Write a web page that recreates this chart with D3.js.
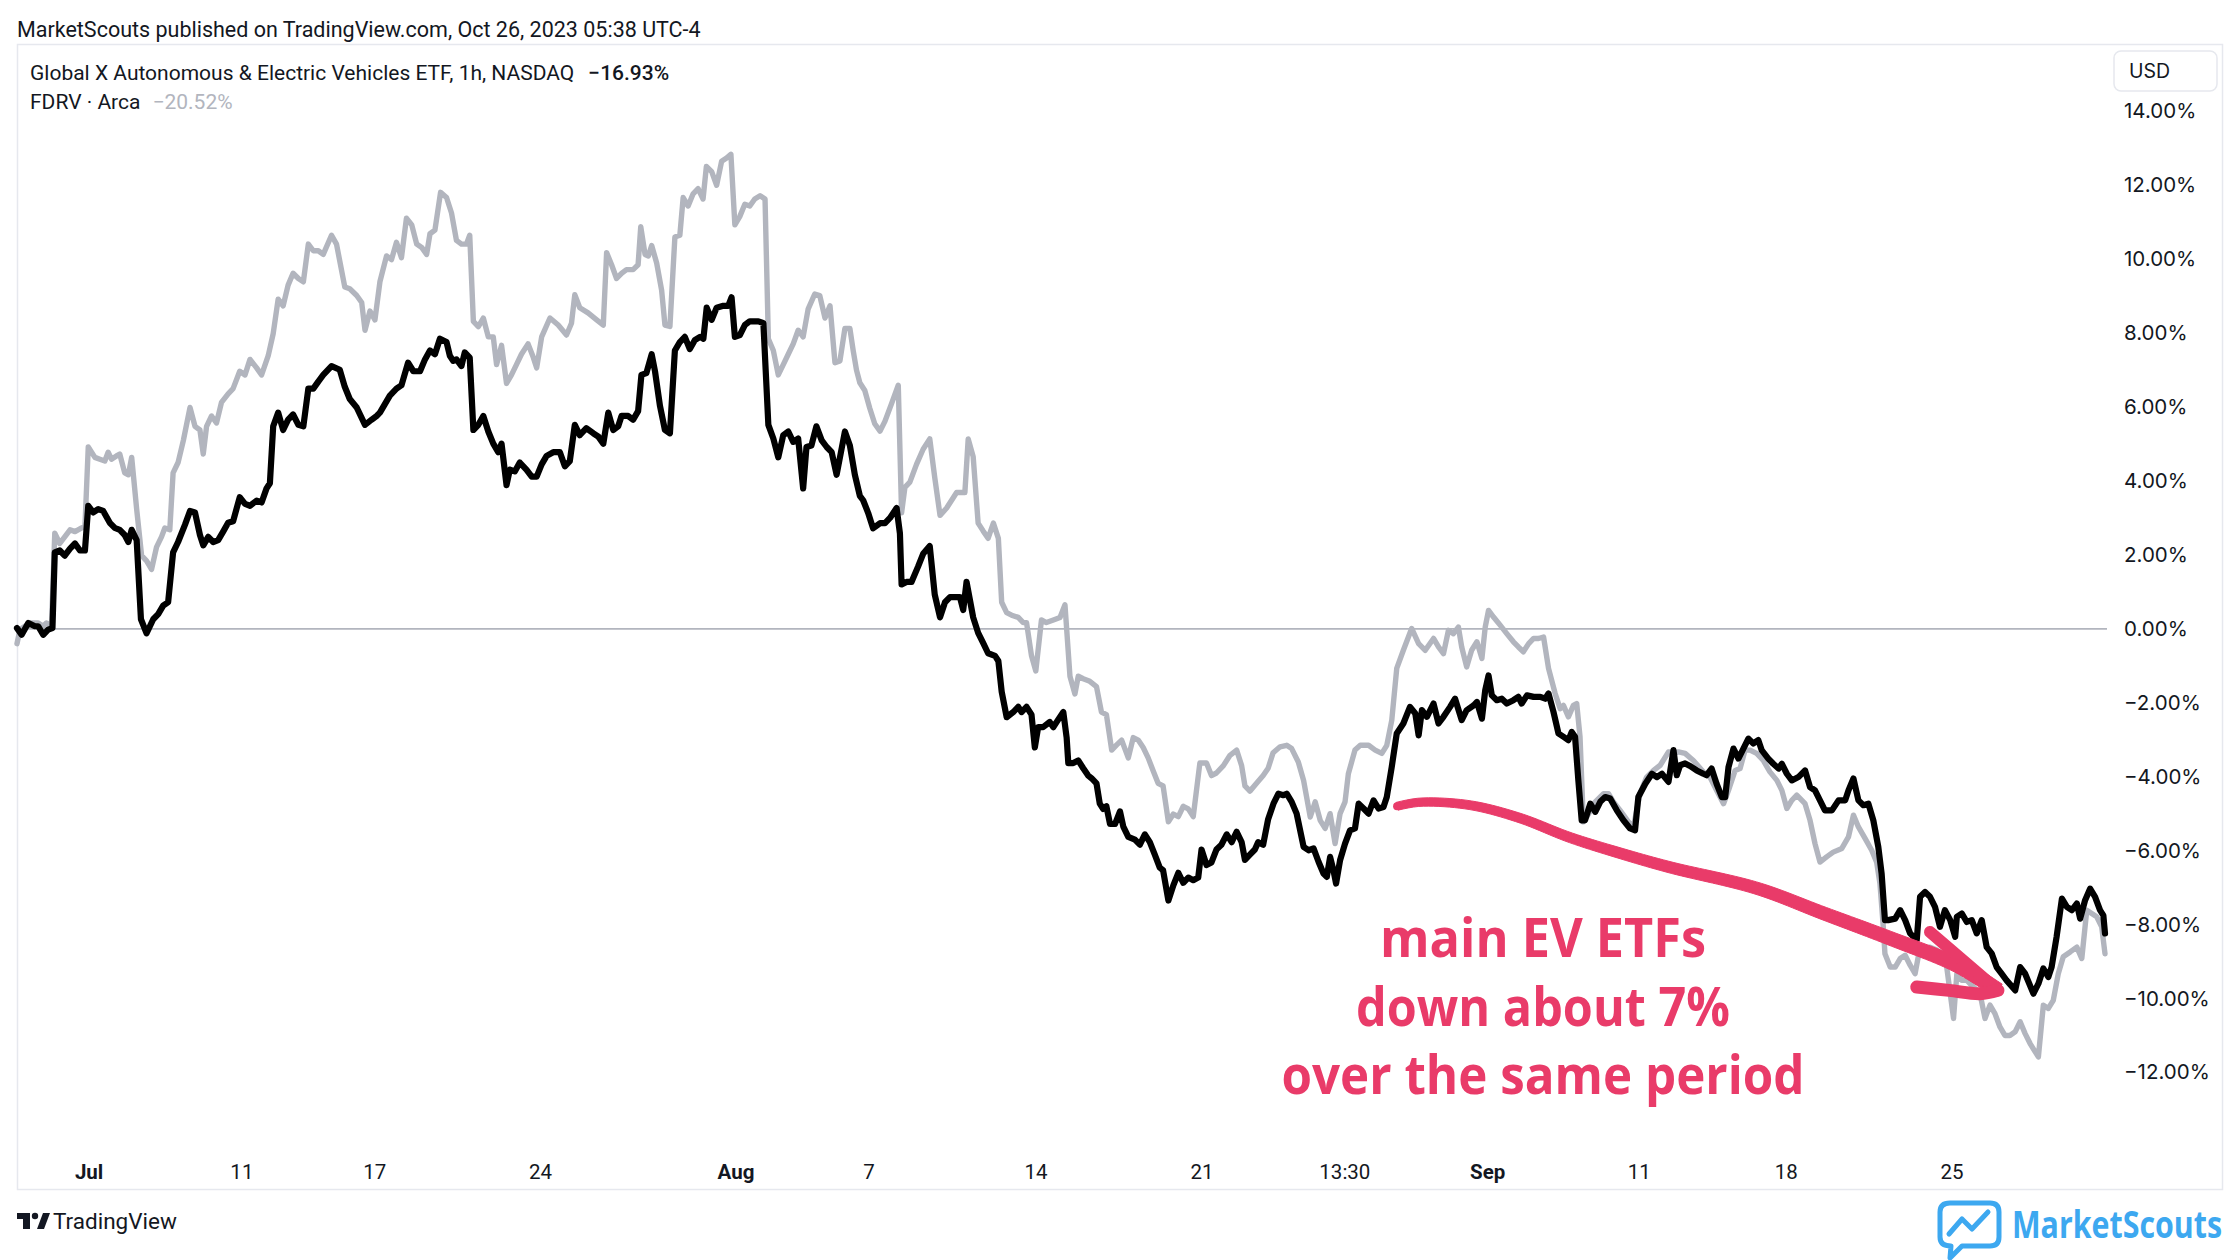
<!DOCTYPE html>
<html><head><meta charset="utf-8">
<script src="https://cdn.jsdelivr.net/npm/d3@7"></script>
<style>body{margin:0;background:#fff}svg{display:block}</style>
</head><body>
<svg id="c" width="2240" height="1260"></svg>
<script>
// ---------- DATA (trading-day position since start, % change) ----------
const drivDays = [0.00,0.14,0.34,0.54,0.64,0.79,0.94,1.07,1.14,1.29,1.44,1.60,1.75,1.90,2.05,2.15,2.30,2.45,2.60,2.80,2.95,3.10,3.25,3.36,3.46,3.61,3.74,3.91,4.11,4.26,4.41,4.56,4.71,4.86,5.07,5.22,5.37,5.52,5.62,5.77,5.92,6.07,6.22,6.37,6.52,6.72,6.88,7.03,7.23,7.38,7.53,7.63,7.73,7.88,8.03,8.18,8.33,8.49,8.64,8.79,8.94,9.09,9.24,9.49,9.74,9.89,10.04,10.25,10.50,10.70,10.85,10.95,11.10,11.25,11.45,11.60,11.80,11.96,12.16,12.31,12.46,12.61,12.76,12.96,13.06,13.16,13.26,13.41,13.51,13.66,13.77,13.92,14.07,14.22,14.37,14.52,14.62,14.77,14.87,15.02,15.17,15.37,15.53,15.68,15.83,15.98,16.18,16.38,16.53,16.68,16.83,16.98,17.18,17.39,17.54,17.69,17.84,17.99,18.14,18.24,18.44,18.59,18.74,18.84,18.99,19.15,19.25,19.40,19.55,19.70,19.85,20.00,20.15,20.30,20.45,20.61,20.71,20.81,20.96,21.11,21.31,21.46,21.56,21.66,21.81,21.96,22.11,22.37,22.52,22.67,22.82,22.97,23.12,23.27,23.42,23.57,23.72,23.82,23.97,24.12,24.28,24.43,24.58,24.73,24.98,25.13,25.28,25.43,25.53,25.68,25.83,26.04,26.19,26.34,26.54,26.64,26.69,26.84,26.99,27.19,27.34,27.54,27.69,27.85,28.00,28.15,28.30,28.45,28.55,28.65,28.75,28.85,29.00,29.15,29.30,29.51,29.61,29.71,29.86,30.06,30.21,30.31,30.46,30.61,30.71,30.81,30.96,31.16,31.27,31.42,31.57,31.67,31.72,31.87,32.02,32.17,32.32,32.42,32.57,32.67,32.77,32.87,32.98,33.13,33.28,33.38,33.53,33.73,33.88,34.03,34.18,34.33,34.48,34.58,34.74,34.89,35.04,35.19,35.34,35.49,35.64,35.74,35.89,36.04,36.19,36.34,36.50,36.65,36.80,36.95,37.05,37.20,37.35,37.45,37.60,37.75,37.91,38.06,38.21,38.31,38.46,38.61,38.82,38.97,39.12,39.27,39.42,39.52,39.62,39.72,39.80,39.92,40.07,40.22,40.37,40.48,40.63,40.78,40.93,41.08,41.23,41.33,41.48,41.63,41.83,42.03,42.19,42.29,42.39,42.54,42.74,42.89,43.04,43.24,43.39,43.59,43.74,43.95,44.05,44.20,44.30,44.40,44.50,44.65,44.80,44.95,45.15,45.30,45.40,45.56,45.76,45.96,46.11,46.21,46.36,46.51,46.66,46.81,46.91,47.01,47.11,47.21,47.31,47.47,47.62,47.77,47.92,48.07,48.27,48.47,48.67,48.82,48.92,49.13,49.33,49.48,49.63,49.83,49.98,50.08,50.18,50.33,50.48,50.68,50.88,50.98,51.13,51.28,51.44,51.54,51.64,51.79,51.94,52.09,52.24,52.39,52.54,52.64,52.84,52.99,53.15,53.25,53.40,53.55,53.75,53.95,54.10,54.25,54.40,54.55,54.76,54.96,55.16,55.26,55.41,55.56,55.71,55.86,56.01,56.16,56.26,56.36,56.46,56.67,56.82,56.97,57.12,57.32,57.42,57.57,57.72,57.87,58.02,58.17,58.33,58.48,58.53,58.68,58.83,58.98,59.13,59.28,59.43,59.58,59.73,59.88,60.03,60.29,60.44,60.59,60.84,60.99,61.14,61.29,61.39,61.54,61.70,61.85,62.00,62.15,62.25,62.40,62.55,62.70,62.85,62.95,63.00];
const drivPct = [0.02,-0.16,0.16,0.07,0.07,-0.16,-0.02,0.02,2.07,2.12,1.98,2.17,2.31,2.12,2.12,3.33,3.15,3.24,3.19,2.87,2.73,2.68,2.54,2.35,2.68,2.40,0.26,-0.12,0.26,0.40,0.63,0.72,2.07,2.35,2.82,3.19,3.15,2.54,2.26,2.49,2.35,2.40,2.63,2.87,2.91,3.56,3.38,3.33,3.47,3.42,3.80,3.94,5.48,5.85,5.38,5.66,5.80,5.52,5.48,6.50,6.50,6.69,6.87,7.11,7.01,6.55,6.22,5.99,5.52,5.66,5.76,5.85,6.08,6.31,6.50,6.59,7.20,6.97,6.97,7.29,7.53,7.43,7.85,7.76,7.39,7.25,7.29,7.11,7.48,7.34,5.38,5.52,5.76,5.34,5.01,4.78,5.01,3.89,4.31,4.26,4.50,4.31,4.12,4.12,4.45,4.68,4.78,4.78,4.40,4.54,5.52,5.24,5.43,5.29,5.20,5.01,5.85,5.38,5.48,5.76,5.76,5.66,5.89,6.87,6.92,7.43,6.97,6.03,5.38,5.29,7.53,7.76,7.90,7.57,7.81,7.90,7.85,8.69,8.36,8.69,8.74,8.74,8.97,7.90,7.95,8.22,8.32,8.32,8.27,5.52,5.15,4.64,5.24,5.34,5.06,5.15,3.80,4.92,4.96,5.48,5.10,4.92,4.78,4.17,5.34,4.96,4.17,3.60,3.48,3.14,2.72,2.86,2.86,3.00,3.27,2.58,1.20,1.27,1.27,1.69,2.03,2.24,0.93,0.31,0.72,0.86,0.86,0.86,0.51,1.27,0.79,0.31,-0.11,-0.38,-0.66,-0.73,-0.87,-1.70,-2.39,-2.25,-2.11,-2.25,-2.11,-2.32,-3.21,-2.66,-2.66,-2.52,-2.66,-2.45,-2.25,-2.94,-3.63,-3.63,-3.56,-3.77,-3.97,-4.04,-4.18,-4.73,-4.87,-4.80,-5.28,-5.28,-4.94,-5.35,-5.63,-5.70,-5.84,-5.56,-5.77,-6.11,-6.46,-6.53,-7.35,-6.94,-6.60,-6.87,-6.73,-6.80,-6.73,-5.97,-6.39,-6.32,-5.97,-5.84,-5.56,-5.77,-5.49,-5.77,-6.25,-6.11,-5.97,-5.77,-5.84,-5.15,-4.73,-4.46,-4.50,-4.46,-4.68,-5.00,-5.90,-5.99,-5.94,-6.30,-6.62,-6.71,-6.17,-6.53,-6.89,-6.26,-5.81,-5.45,-5.40,-4.73,-4.86,-5.00,-4.64,-4.86,-4.82,-4.55,-3.73,-2.83,-2.56,-2.11,-2.29,-2.88,-2.20,-2.38,-2.02,-2.56,-2.38,-2.11,-1.89,-2.47,-2.20,-2.07,-1.98,-2.43,-1.66,-1.26,-1.80,-1.93,-1.89,-2.02,-1.93,-1.84,-2.02,-1.80,-1.84,-1.84,-1.89,-1.75,-2.25,-2.83,-2.92,-3.01,-2.79,-2.92,-4.10,-5.18,-5.18,-4.73,-4.95,-4.68,-4.55,-4.59,-4.91,-5.18,-5.40,-5.45,-4.55,-4.19,-3.92,-4.01,-3.92,-4.14,-3.28,-3.96,-3.69,-3.64,-3.71,-3.83,-3.92,-3.96,-3.78,-4.19,-4.55,-4.55,-3.74,-3.24,-3.51,-3.24,-2.97,-3.10,-3.01,-3.28,-3.51,-3.65,-3.78,-3.65,-3.92,-4.10,-4.01,-3.83,-4.28,-4.37,-4.64,-4.91,-4.91,-4.64,-4.64,-4.37,-4.05,-4.64,-4.77,-4.73,-5.18,-5.90,-6.62,-7.88,-7.88,-7.84,-7.61,-7.88,-8.24,-8.42,-7.25,-7.12,-7.25,-7.52,-8.06,-7.61,-7.88,-8.33,-7.79,-7.70,-7.93,-7.88,-8.24,-7.88,-8.61,-8.78,-9.15,-9.33,-9.51,-9.78,-9.15,-9.33,-9.87,-9.60,-9.19,-9.42,-9.15,-8.33,-7.30,-7.52,-7.61,-7.43,-7.84,-7.34,-7.03,-7.25,-7.61,-7.75,-8.24];

const fdrvDays = [0.00,0.09,0.39,0.64,0.79,0.89,1.04,1.14,1.29,1.44,1.60,1.75,1.95,2.05,2.15,2.35,2.50,2.65,2.75,2.85,3.00,3.10,3.25,3.36,3.46,3.61,3.76,3.91,4.06,4.21,4.36,4.46,4.61,4.71,4.86,5.02,5.22,5.37,5.52,5.62,5.72,5.87,6.02,6.17,6.37,6.52,6.72,6.88,7.03,7.23,7.38,7.58,7.73,7.88,8.03,8.18,8.33,8.49,8.64,8.79,8.94,9.09,9.24,9.49,9.64,9.89,10.04,10.25,10.40,10.50,10.65,10.80,10.95,11.15,11.30,11.45,11.60,11.75,11.91,12.06,12.21,12.36,12.46,12.61,12.78,12.96,13.11,13.26,13.41,13.56,13.66,13.77,13.92,14.07,14.22,14.37,14.47,14.62,14.77,14.92,15.07,15.22,15.42,15.58,15.68,15.83,16.08,16.33,16.58,16.73,16.83,16.98,17.23,17.49,17.69,17.79,17.94,18.09,18.24,18.39,18.59,18.74,18.82,18.95,19.05,19.15,19.30,19.45,19.55,19.70,19.85,20.00,20.10,20.25,20.40,20.55,20.70,20.80,20.96,21.11,21.26,21.41,21.54,21.66,21.81,21.96,22.11,22.26,22.42,22.57,22.67,22.82,22.97,23.12,23.27,23.42,23.57,23.72,23.87,24.07,24.22,24.38,24.53,24.68,24.83,24.98,25.13,25.23,25.33,25.43,25.58,25.73,25.88,26.04,26.19,26.39,26.59,26.69,26.79,26.94,27.14,27.34,27.54,27.69,27.85,28.05,28.20,28.35,28.60,28.70,28.85,29.00,29.15,29.30,29.46,29.61,29.71,29.86,30.01,30.21,30.36,30.46,30.61,30.74,30.91,31.06,31.27,31.47,31.62,31.77,31.92,32.02,32.17,32.37,32.57,32.72,32.87,33.03,33.18,33.33,33.53,33.68,33.83,33.98,34.13,34.28,34.43,34.58,34.74,34.89,35.04,35.19,35.34,35.49,35.69,35.89,36.04,36.19,36.40,36.60,36.80,36.95,37.05,37.20,37.40,37.60,37.75,37.90,38.11,38.31,38.46,38.66,38.82,39.02,39.17,39.32,39.47,39.62,39.77,39.92,40.07,40.17,40.37,40.53,40.78,40.98,41.18,41.33,41.48,41.63,41.83,42.08,42.29,42.49,42.74,42.89,43.04,43.19,43.34,43.49,43.59,43.74,43.89,44.05,44.20,44.30,44.40,44.55,44.75,44.95,45.15,45.30,45.45,45.61,45.76,45.91,46.06,46.21,46.41,46.56,46.66,46.81,46.96,47.06,47.16,47.26,47.42,47.62,47.87,48.02,48.17,48.37,48.62,48.77,48.97,49.17,49.38,49.58,49.83,49.98,50.13,50.33,50.58,50.93,51.08,51.28,51.49,51.64,51.84,51.99,52.14,52.29,52.49,52.69,52.89,53.10,53.25,53.40,53.55,53.70,53.95,54.10,54.25,54.40,54.60,54.80,55.06,55.26,55.41,55.56,55.76,55.96,56.11,56.21,56.31,56.36,56.52,56.67,56.82,56.97,57.12,57.27,57.42,57.57,57.72,57.92,58.07,58.17,58.43,58.53,58.68,58.83,59.03,59.23,59.38,59.53,59.68,59.83,59.98,60.13,60.29,60.44,60.59,60.74,60.99,61.14,61.29,61.44,61.59,61.74,61.95,62.15,62.30,62.45,62.60,62.75,62.90,63.00];
const fdrvPct = [-0.40,-0.02,0.16,0.16,0.07,0.16,0.07,2.59,2.31,2.49,2.68,2.63,2.73,2.77,4.92,4.64,4.59,4.54,4.78,4.59,4.68,4.73,4.22,4.17,4.64,3.24,1.98,1.84,1.61,2.21,2.49,2.73,2.68,4.22,4.50,5.10,5.99,5.48,5.38,4.73,5.48,5.76,5.57,6.13,6.36,6.50,6.97,6.87,7.29,7.06,6.87,7.39,7.99,8.92,8.74,9.30,9.62,9.48,9.39,10.41,10.23,10.23,10.13,10.65,10.41,9.25,9.20,9.02,8.83,8.08,8.60,8.36,9.39,10.09,9.99,10.46,10.04,11.11,10.93,10.41,10.32,10.13,10.69,10.79,11.81,11.67,11.25,10.51,10.41,10.41,10.65,8.32,8.18,8.41,7.90,7.90,7.15,7.67,6.64,6.87,7.15,7.43,7.71,7.34,7.06,7.90,8.41,8.22,7.95,8.27,9.04,8.69,8.55,8.36,8.22,10.18,9.85,9.48,9.62,9.72,9.72,9.85,10.88,10.13,10.09,10.37,9.90,9.16,8.22,8.18,10.60,10.65,11.67,11.44,11.77,11.91,11.63,12.51,12.37,12.00,12.65,12.74,12.84,10.93,11.16,11.49,11.44,11.63,11.72,11.63,7.85,7.53,6.87,7.15,7.43,7.71,8.08,7.90,8.65,9.06,9.02,8.41,8.74,7.20,7.25,8.13,8.13,7.53,7.00,6.66,6.45,5.97,5.55,5.35,5.62,6.10,6.59,3.14,3.83,3.97,4.45,4.86,5.14,4.10,3.07,3.27,3.48,3.69,3.69,5.14,4.66,2.86,2.65,2.45,2.86,2.45,0.72,0.44,0.37,0.31,0.17,0.17,-0.73,-1.14,0.24,0.17,0.24,0.31,0.65,-1.28,-1.76,-1.28,-1.35,-1.42,-1.56,-2.25,-2.32,-3.28,-3.14,-3.01,-3.49,-2.94,-3.01,-3.21,-3.49,-3.84,-4.18,-4.25,-5.22,-5.01,-5.08,-4.80,-4.87,-5.08,-3.63,-3.63,-3.97,-3.90,-3.70,-3.42,-3.28,-3.70,-4.25,-4.39,-4.18,-3.97,-3.77,-3.35,-3.19,-3.15,-3.24,-3.60,-4.10,-5.09,-4.68,-5.18,-5.40,-5.00,-5.81,-5.00,-4.68,-3.92,-3.28,-3.15,-3.15,-3.28,-3.37,-3.15,-2.47,-1.07,-0.58,0.01,-0.40,-0.58,-0.26,-0.49,-0.67,-0.04,-0.13,0.05,-0.49,-1.03,-0.58,-0.35,-0.80,0.05,0.50,0.32,0.10,-0.13,-0.35,-0.49,-0.62,-0.40,-0.26,-0.26,-0.22,-1.07,-1.75,-2.16,-2.07,-2.38,-2.07,-2.02,-2.92,-5.22,-5.00,-4.68,-4.46,-4.46,-4.68,-4.91,-5.22,-5.36,-4.46,-4.01,-3.83,-3.69,-3.33,-3.37,-3.33,-3.37,-3.56,-3.92,-4.01,-4.37,-4.73,-4.37,-3.83,-3.78,-3.28,-3.28,-3.37,-3.56,-3.87,-4.10,-4.37,-4.86,-4.64,-4.50,-4.73,-5.18,-5.81,-6.31,-6.17,-6.04,-5.94,-5.63,-5.04,-5.36,-5.67,-5.99,-6.31,-6.89,-8.06,-8.79,-9.15,-9.15,-8.92,-8.83,-9.10,-9.33,-8.61,-8.65,-8.61,-8.69,-8.78,-8.78,-10.54,-9.33,-9.51,-9.51,-9.69,-9.87,-10.54,-10.18,-10.41,-10.77,-11.00,-11.00,-10.90,-10.63,-10.95,-11.22,-11.58,-10.18,-10.27,-10.05,-9.33,-8.87,-8.74,-8.61,-8.92,-7.61,-7.70,-7.79,-8.06,-8.79];

const yTickValues = [14,12,10,8,6,4,2,0,-2,-4,-6,-8,-10,-12];
const xTickLabels = ["Jul","11","17","24","Aug","7","14","21","13:30","Sep","11","18","25"];
const xTickDays   = [2.16,6.77,10.78,15.78,21.68,25.69,30.73,35.74,40.05,44.36,48.93,53.37,58.37];
const xTickMonth  = [true,false,false,false,true,false,false,false,false,true,false,false,false];

// annotation arrow (in chart coordinates: day, %)
const arrowDays = [41.64,42.33,43.84,45.35,46.84,48.37,49.87,52.50,54.49,56.51,58.54,59.77];
const arrowPct  = [-4.80,-4.69,-4.77,-5.12,-5.64,-6.07,-6.45,-7.02,-7.69,-8.37,-9.10,-9.78];
const headUpperDays = [57.72,59.77], headUpperPct = [-8.20,-9.78];
const headLowerDays = [57.32,58.30,59.23,59.77], headLowerPct = [-9.69,-9.78,-9.87,-9.78];
const noteLines = ["main EV ETFs","down about 7%","over the same period"];

// ---------- DRAW ----------
const svg = d3.select("#c");
const W = 2240, H = 1260;
svg.append("rect").attr("width",W).attr("height",H).attr("fill","#fff");

const x = d3.scaleLinear().domain([0,63]).range([17,2105]);
const y = d3.scaleLinear().domain([-12,14]).range([1072.4,111.4]);
const TXT = "#131722", GRAY = "#b2b5be", PINK = "#e93b69", BLUE = "#3da8f0";

// header
svg.append("text").attr("x",17).attr("y",37).attr("font-family","Roboto").attr("font-size",21.5)
  .attr("fill",TXT).text("MarketScouts published on TradingView.com, Oct 26, 2023 05:38 UTC-4");

// frame
svg.append("rect").attr("x",17.5).attr("y",44.5).attr("width",2205).attr("height",1145)
  .attr("fill","none").attr("stroke","#e6e8ee").attr("stroke-width",1.5);

// legend
const lg1 = svg.append("text").attr("x",30).attr("y",80).attr("font-family","Roboto").attr("font-size",21).attr("fill",TXT);
lg1.append("tspan").text("Global X Autonomous & Electric Vehicles ETF, 1h, NASDAQ");
lg1.append("tspan").attr("dx",14).attr("font-weight",500).text("\u221216.93%");
const lg2 = svg.append("text").attr("x",30).attr("y",109).attr("font-family","Roboto").attr("font-size",21).attr("fill",TXT);
lg2.append("tspan").text("FDRV \u00b7 Arca");
lg2.append("tspan").attr("dx",12).attr("fill",GRAY).text("\u221220.52%");

// USD box
svg.append("rect").attr("x",2114).attr("y",51).attr("width",103).attr("height",40).attr("rx",7)
  .attr("fill","#fff").attr("stroke","#e6e8ee").attr("stroke-width",1.5);
svg.append("text").attr("x",2129).attr("y",78).attr("font-family","Inter").attr("font-size",19.5).attr("fill",TXT).text("USD");

// y axis (right)
const yAxis = d3.axisRight(y).tickValues(yTickValues).tickSize(0).tickPadding(0)
  .tickFormat(d => (d < 0 ? "\u2212" : "") + Math.abs(d).toFixed(2) + "%");
const gy = svg.append("g").attr("transform","translate(2124,0)").call(yAxis);
gy.select(".domain").remove();
gy.selectAll("text").attr("font-family","Inter").attr("font-size",20.5).attr("fill",TXT);

// x axis
const xAxis = d3.axisBottom(x).tickValues(xTickDays).tickSize(0).tickPadding(0)
  .tickFormat((d,i) => xTickLabels[i]);
const gx = svg.append("g").attr("transform","translate(0,1164)").call(xAxis);
gx.select(".domain").remove();
gx.selectAll("text").attr("font-family","Roboto").attr("font-size",20.5).attr("fill",TXT)
  .attr("font-weight",(d,i) => xTickMonth[i] ? 700 : 400);

// zero line
svg.append("line").attr("x1",x(0)).attr("x2",2107).attr("y1",y(0)).attr("y2",y(0))
  .attr("stroke",GRAY).attr("stroke-width",1.6);

// series
const line = d3.line().x(d => x(d[0])).y(d => y(d[1])).curve(d3.curveLinear);
const fdrv = fdrvDays.map((t,i) => [t, fdrvPct[i]]);
const driv = drivDays.map((t,i) => [t, drivPct[i]]);
svg.append("path").datum(fdrv).attr("d",line).attr("fill","none").attr("stroke",GRAY)
  .attr("stroke-width",5.4).attr("stroke-linejoin","round").attr("stroke-linecap","round");
svg.append("path").datum(driv).attr("d",line).attr("fill","none").attr("stroke","#000")
  .attr("stroke-width",6.2).attr("stroke-linejoin","round").attr("stroke-linecap","round");

// annotation arrow (tapered shaft)
const arrowPts = arrowDays.map((t,i) => [t, arrowPct[i]]);
const smooth = d3.line().x(d => x(d[0])).y(d => y(d[1])).curve(d3.curveCatmullRom.alpha(0.5));
const tmp = svg.append("path").attr("d", smooth(arrowPts)).attr("fill","none").attr("stroke","none");
const node = tmp.node(), L = node.getTotalLength();
const N = 120, left = [], right = [];
for (let k = 0; k <= N; k++) {
  const s = L * k / N;
  const p = node.getPointAtLength(s);
  const q = node.getPointAtLength(Math.min(L, s + 1)), q0 = node.getPointAtLength(Math.max(0, s - 1));
  let dx = q.x - q0.x, dy = q.y - q0.y; const m = Math.hypot(dx,dy) || 1; dx /= m; dy /= m;
  const w = (8 + 7 * (k / N)) / 2;
  left.push([p.x - dy * w, p.y + dx * w]);
  right.push([p.x + dy * w, p.y - dx * w]);
}
tmp.remove();
svg.append("path").attr("d", d3.line()(left.concat(right.reverse())) + "Z").attr("fill",PINK)
  .attr("stroke",PINK).attr("stroke-width",1).attr("stroke-linejoin","round");
svg.append("circle").attr("cx",x(arrowDays[0])).attr("cy",y(arrowPct[0])).attr("r",4).attr("fill",PINK);
const headU = headUpperDays.map((t,i) => [t, headUpperPct[i]]);
const headL = headLowerDays.map((t,i) => [t, headLowerPct[i]]);
svg.append("path").attr("d", smooth(headU)).attr("fill","none").attr("stroke",PINK)
  .attr("stroke-width",12).attr("stroke-linecap","round");
svg.append("path").attr("d", smooth(headL)).attr("fill","none").attr("stroke",PINK)
  .attr("stroke-width",13).attr("stroke-linecap","round");

// annotation text
const noteWidths = [326, 374, 523];
noteLines.forEach((s,i) => {
  svg.append("text").attr("x",1543).attr("y",957 + i*68.5).attr("text-anchor","middle")
    .attr("font-family","Open Sans").attr("font-weight",700).attr("font-size",54)
    .attr("fill",PINK).attr("textLength",noteWidths[i]).attr("lengthAdjust","spacingAndGlyphs").text(s);
});

// TradingView logo
const tv = svg.append("g").attr("fill",TXT);
tv.append("rect").attr("x",17).attr("y",1213).attr("width",13).attr("height",6);
tv.append("rect").attr("x",23).attr("y",1213).attr("width",7).attr("height",16);
tv.append("circle").attr("cx",35).attr("cy",1216).attr("r",3.2);
tv.append("path").attr("d","M37 1229 L43 1213 L50 1213 L44 1229 Z");
svg.append("text").attr("x",53).attr("y",1229).attr("font-family","Roboto").attr("font-size",22.5)
  .attr("fill",TXT).text("TradingView");

// MarketScouts logo
const ms = svg.append("g");
ms.append("path").attr("d","M1950 1203 H1990 Q1999 1203 1999 1212 V1237 Q1999 1246 1990 1246 H1962 L1950 1258 L1951 1246 Q1940 1246 1940 1237 V1212 Q1940 1203 1950 1203 Z")
  .attr("fill","none").attr("stroke",BLUE).attr("stroke-width",5).attr("stroke-linejoin","round");
ms.append("polyline").attr("points","1949,1234 1962,1219 1972,1229 1988,1212")
  .attr("fill","none").attr("stroke",BLUE).attr("stroke-width",5).attr("stroke-linejoin","round").attr("stroke-linecap","round");
svg.append("text").attr("transform","translate(2012,1238) scale(1,1.22)").attr("font-family","Open Sans").attr("font-weight",700)
  .attr("font-size",30.5).attr("fill",BLUE).attr("textLength",210).attr("lengthAdjust","spacingAndGlyphs").text("MarketScouts");
</script>
</body></html>
